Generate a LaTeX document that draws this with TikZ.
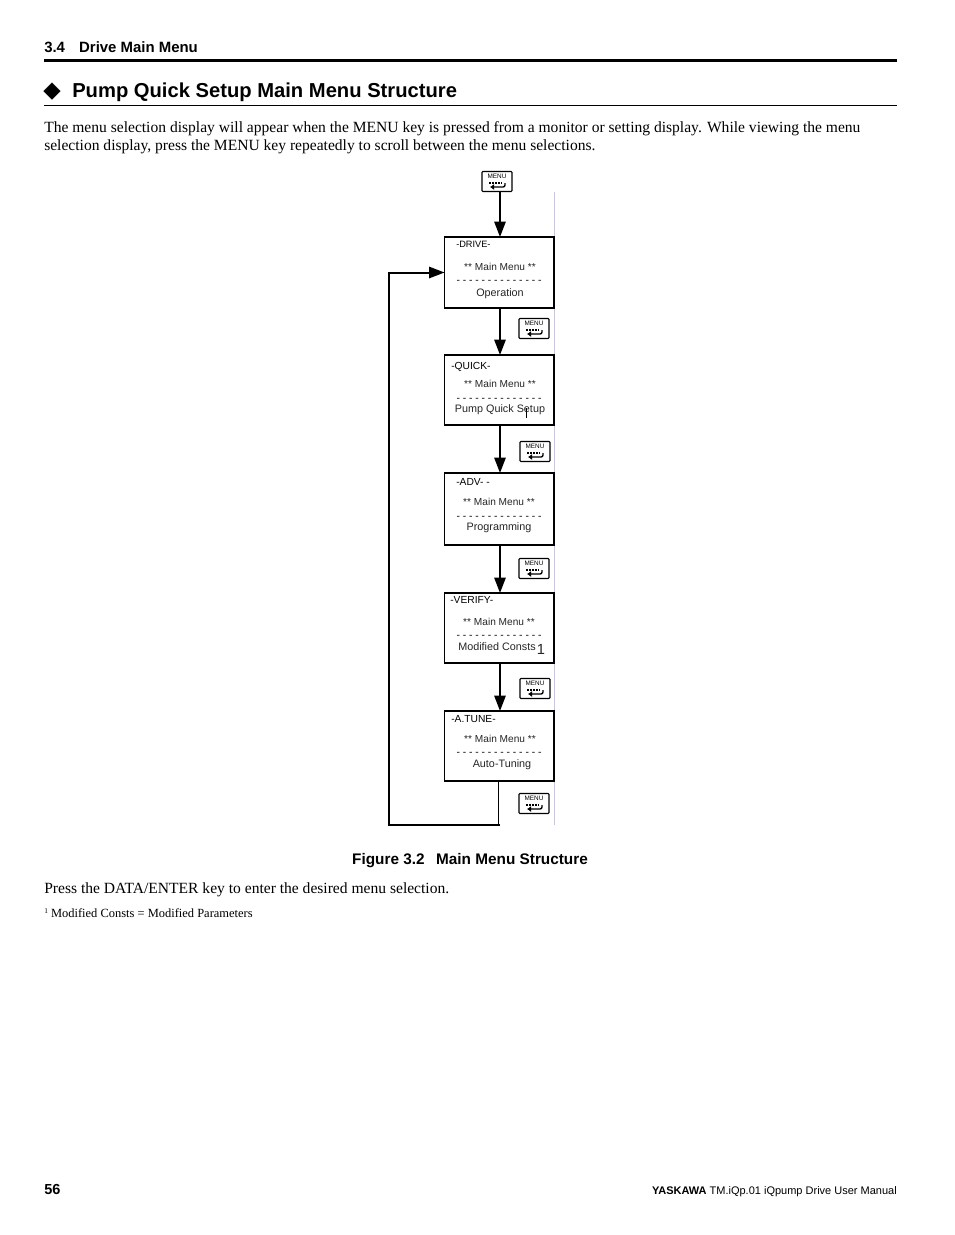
\documentclass[tikz,border=0pt]{standalone}
\usepackage{fontspec}
\setmainfont{Liberation Serif}
\setsansfont{Liberation Sans}
\newfontfamily\symfont{DejaVu Sans}
\usetikzlibrary{arrows.meta}

\tikzset{
	x=0.75pt, y=-0.75pt,
	screen/.style={draw, line width=1.3pt, anchor=north west, inner sep=0pt, outer sep=0pt},
	menukey/.style={draw, line width=0.8pt, rounded corners=0.6pt, minimum width=22.5pt, minimum height=15pt, inner sep=0pt},
	keytext/.style={font=\sffamily\fontsize{4.8}{5}\selectfont, inner sep=0pt},
	flow/.style={line width=1.2pt, -{Triangle[width=8.5pt, length=11.5pt]}},
	loopline/.style={line width=1.5pt},
	screentext/.style={font=\sffamily\fontsize{8.1}{9}\selectfont, inner sep=0pt, text=black!85},
	maintext/.style={font=\sffamily\fontsize{7.6}{9}\selectfont, inner sep=0pt, text=black!85},
	titletext/.style={font=\sffamily\fontsize{7.7}{9}\selectfont, inner sep=0pt, anchor=base west},
	dashrow/.style={font=\sffamily\fontsize{7.7}{9}\selectfont, inner sep=0pt},
	bodytext/.style={font=\fontsize{11.67}{13}\selectfont, anchor=base west, inner sep=0pt},
}

% one MENU key: name, centre x, centre y
\newcommand{\menubutton}[3]{
	\node[menukey] (#1) at (#2,#3) {};
	\node[keytext] (#1text) at (#2,#3-5) {MENU};
	\draw[line width=1.5pt, dash pattern=on 1.3pt off 1pt] (#2-8,#3+1) -- (#2+4.5,#3+1);
	\draw[line width=1pt, rounded corners=1.5pt, -{Latex[length=3pt,width=4.5pt]}] (#2+8,#3+1.5) -- (#2+8,#3+5.5) -- (#2-7,#3+5.5);
}

% one display: name, top y, bottom y
\newcommand{\menuscreen}[3]{
	\node[screen, minimum width=82pt, minimum height={(#3-#2)*0.75pt}] (#1) at (444.5,#2) {};
}

\begin{document}
\begin{tikzpicture}
	\useasboundingbox (0,0) rectangle (954,1235);
	\fill[white] (0,0) rectangle (954,1235);

	% page head
	\node[anchor=base west, inner sep=0pt, font=\sffamily\bfseries\fontsize{11.2}{13}\selectfont] (chapter) at (44,52) {3.4\hspace{7.5pt} Drive Main Menu};
	\draw[line width=2.2pt] (44,60.5) -- (897,60.5);
	\node[anchor=base west, inner sep=0pt, font=\symfont\fontsize{17}{19}\selectfont] (bullet) at (43,97.5) {◆};
	\node[anchor=base west, inner sep=0pt, font=\sffamily\bfseries\fontsize{15.14}{18}\selectfont] (heading) at (72,97) {Pump Quick Setup Main Menu Structure};
	\draw[line width=0.5pt] (44,105.5) -- (897,105.5);

	\node[bodytext] (introa) at (44,132) {The menu selection display will appear when the MENU key is pressed from a monitor or setting display. While viewing the menu};
	\node[bodytext] (introb) at (44,150) {selection display, press the MENU key repeatedly to scroll between the menu selections.};

	% pale rule behind the displays
	\draw[blue!25!gray!35, line width=0.7pt] (554.5,192) -- (554.5,825);

	% displays
	\menuscreen{drive}{237}{308}
	\menuscreen{quick}{355}{425}
	\menuscreen{adv}{473}{545}
	\menuscreen{verify}{593}{663}
	\menuscreen{atune}{711}{781}

	% keys
	\menubutton{keystart}{497}{181.5}
	\menubutton{keydrive}{534}{328.5}
	\menubutton{keyquick}{535}{451.5}
	\menubutton{keyadv}{534}{568.5}
	\menubutton{keyverify}{535}{688.5}
	\menubutton{keyatune}{534}{803.5}

	% display texts
	\node[titletext, font=\sffamily\fontsize{6.9}{8}\selectfont] (drivetitle) at (456,247) {-DRIVE-};
	\node[maintext] (drivemain) at (500,267) {** Main Menu **};
	\node[dashrow] (drivedash) at (499,281.5) {- - - - - - - - - - - - - -};
	\node[screentext] (drivename) at (500,294) {Operation};

	\node[titletext] (quicktitle) at (451,369) {-QUICK-};
	\node[maintext] (quickmain) at (500,384) {** Main Menu **};
	\node[dashrow] (quickdash) at (499,399.5) {- - - - - - - - - - - - - -};
	\node[screentext] (quickname) at (500,410) {Pump Quick Setup};
	\draw[line width=0.5pt] (526,408) -- (526,418);

	\node[titletext] (advtitle) at (456,485) {-ADV- -};
	\node[maintext] (advmain) at (499,502) {** Main Menu **};
	\node[dashrow] (advdash) at (499,518) {- - - - - - - - - - - - - -};
	\node[screentext] (advname) at (499,528) {Programming};

	\node[titletext] (verifytitle) at (450,603) {-VERIFY-};
	\node[maintext] (verifymain) at (499,622) {** Main Menu **};
	\node[dashrow] (verifydash) at (499,637) {- - - - - - - - - - - - - -};
	\node[screentext] (verifyname) at (497,647) {Modified Consts};
	\node[screentext, font=\sffamily\fontsize{11}{12}\selectfont] (verifynote) at (541,649) {1};

	\node[titletext] (atunetitle) at (451,722) {-A.TUNE-};
	\node[maintext] (atunemain) at (500,739) {** Main Menu **};
	\node[dashrow] (atunedash) at (499,754) {- - - - - - - - - - - - - -};
	\node[screentext] (atunename) at (502,765) {Auto-Tuning};

	% connectors
	\coordinate (loopstart) at (498.5,781);
	\coordinate (loopend) at (498.5,825);
	\coordinate (loopright) at (500,825);
	\coordinate (loopleft) at (389,825);
	\draw[flow] (500,192) -- (500,237);
	\draw[flow] (500,308) -- (500,355);
	\draw[flow] (500,425) -- (500,473);
	\draw[flow] (500,545) -- (500,593);
	\draw[flow] (500,663) -- (500,711);
	\draw[line width=0.8pt] (loopstart) -- (loopend);
	\draw[loopline] (loopright) -- (loopleft) -- (loopleft |- drive.west) -- (430,272.5);
	\draw[flow] (loopleft |- drive.west) -- (drive.west);

	% captions
	\node[inner sep=0pt, anchor=base, font=\sffamily\bfseries\fontsize{11.5}{13}\selectfont] (caption) at (470,864) {Figure 3.2\hspace{5.5pt} Main Menu Structure};
	\node[bodytext] (pressline) at (44,893) {Press the DATA/ENTER key to enter the desired menu selection.};
	\node[anchor=base west, inner sep=0pt, font=\fontsize{9.35}{11}\selectfont] (footnote) at (44,917) {\raisebox{2.5pt}{\fontsize{5.5}{6}\selectfont 1} Modified Consts = Modified Parameters};

	% page foot
	\node[anchor=base west, inner sep=0pt, font=\sffamily\bfseries\fontsize{10.9}{13}\selectfont] (pagenum) at (44,1194) {56};
	\node[anchor=base east, inner sep=0pt, font=\sffamily\fontsize{8.25}{10}\selectfont] (footer) at (897,1194) {\textbf{YASKAWA} TM.iQp.01 iQpump Drive User Manual};
\end{tikzpicture}
\end{document}
